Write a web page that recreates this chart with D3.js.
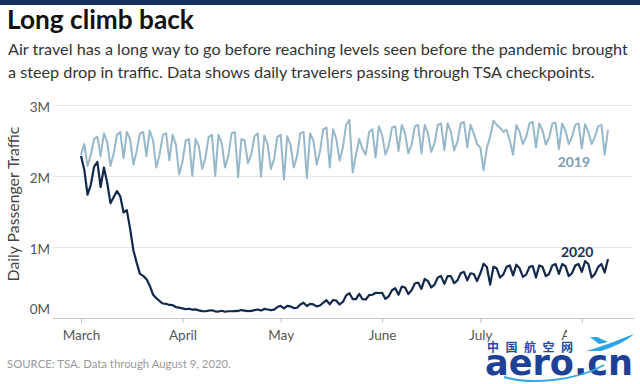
<!DOCTYPE html>
<html><head><meta charset="utf-8">
<script src="https://cdn.jsdelivr.net/npm/d3@7"></script>
<style>body{margin:0;background:#fff}svg{display:block}</style>
</head><body><svg id="c" width="640" height="384"></svg>
<script>
// ---------- DATA ----------
const startDate = "2020-03-01";           // first day of both series (2019 aligned by weekday)
const endDate = "2020-08-09";
// Daily TSA checkpoint travelers, millions
const values2020 = [
 2.281,2.090,1.736,1.877,2.130,2.199,1.845,2.120,1.909,1.617,1.703,1.788,1.714,1.486,1.519,1.258,0.954,0.780,0.621,0.593,0.548,0.455,0.331,0.279,0.239,0.204,0.200,0.184,0.180,0.154,0.146,
 0.136,0.124,0.130,0.118,0.122,0.108,0.097,0.095,0.104,0.109,0.094,0.091,0.102,0.088,0.095,0.095,0.097,0.099,0.112,0.105,0.097,0.099,0.111,0.120,0.105,0.128,0.120,0.110,0.119,0.154,
 0.172,0.134,0.170,0.163,0.140,0.144,0.190,0.215,0.169,0.200,0.191,0.164,0.176,0.215,0.250,0.193,0.253,0.244,0.190,0.227,0.318,0.349,0.267,0.267,0.340,0.264,0.261,0.321,0.327,0.353,0.352,
 0.354,0.268,0.305,0.391,0.419,0.328,0.441,0.430,0.338,0.390,0.486,0.500,0.410,0.550,0.520,0.430,0.470,0.570,0.590,0.480,0.590,0.590,0.490,0.530,0.630,0.650,0.530,0.630,0.620,0.520,
 0.630,0.764,0.718,0.470,0.720,0.700,0.570,0.610,0.720,0.740,0.600,0.750,0.700,0.580,0.610,0.720,0.730,0.570,0.740,0.720,0.590,0.620,0.740,0.760,0.620,0.760,0.730,0.590,0.630,0.740,0.760,
 0.650,0.800,0.760,0.570,0.620,0.720,0.760,0.640,0.832
];
const values2019 = [
 2.30,2.45,2.14,2.30,2.52,2.55,2.28,
 2.60,2.48,2.14,2.32,2.58,2.62,2.25,
 2.62,2.52,2.16,2.35,2.60,2.62,2.28,
 2.64,2.50,2.12,2.30,2.58,2.60,2.22,
 2.58,2.44,2.02,2.20,2.50,2.52,2.00,
 2.52,2.42,2.10,2.25,2.55,2.58,2.00,
 2.58,2.46,2.12,2.28,2.60,2.62,1.98,
 2.52,2.50,2.18,2.30,2.56,2.60,1.99,
 2.57,2.45,2.10,2.24,2.55,2.58,1.95,
 2.56,2.44,2.12,2.28,2.60,2.62,1.97,
 2.60,2.50,2.16,2.34,2.66,2.68,2.12,
 2.66,2.52,2.22,2.40,2.72,2.79,2.05,
 2.30,2.52,2.38,2.30,2.62,2.66,2.26,
 2.70,2.58,2.30,2.42,2.68,2.70,2.35,
 2.72,2.60,2.32,2.44,2.70,2.72,2.32,
 2.72,2.60,2.34,2.46,2.72,2.74,2.36,
 2.74,2.62,2.36,2.48,2.74,2.76,2.40,
 2.72,2.60,2.45,2.40,2.08,2.40,2.55,
 2.78,2.72,2.68,2.62,2.65,2.50,2.30,
 2.72,2.62,2.45,2.55,2.74,2.76,2.40,
 2.74,2.64,2.44,2.54,2.74,2.75,2.38,
 2.74,2.64,2.45,2.55,2.72,2.74,2.39,
 2.73,2.62,2.45,2.55,2.70,2.72,2.30,
 2.65
];
const yTicks = [0, 1, 2, 3];
const yTickLabels = ["0M", "1M", "2M", "3M"];
const monthTicks = ["2020-03-01","2020-04-01","2020-05-01","2020-06-01","2020-07-01","2020-08-01"];
const monthLabels = ["March","April","May","June","July","August"];
const seriesNames = ["2019", "2020"];
const seriesLabelDates = ["2020-07-24", "2020-07-25"];
const seriesLabelValues = [2.14, 0.88];

// ---------- CHART ----------
const svg = d3.select("#c");
const parse = d3.utcParse("%Y-%m-%d");
const t0 = parse(startDate), t1 = parse(endDate);
const FONT = "Lato, 'Open Sans', sans-serif";

const x = d3.scaleUtc().domain([t0, t1]).range([81, 608]);
const y = d3.scaleLinear().domain([0, 3]).range([318, 105]);

function fit(sel, w) {
  const cur = +sel.attr("font-size");
  const len = sel.node().getComputedTextLength();
  sel.attr("font-size", cur * w / len);
}

// top bar
svg.append("rect").attr("x",0).attr("y",0).attr("width",640).attr("height",5).attr("fill","#14305f");

// title / subtitle
const title = svg.append("text").attr("x",7).attr("y",29).attr("font-family",FONT)
  .attr("font-weight",700).attr("font-size",22).attr("fill","#111").text("Long climb back");
fit(title, 187);
const sub1 = svg.append("text").attr("x",8).attr("y",55).attr("font-family",FONT)
  .attr("font-size",15).attr("fill","#333")
  .text("Air travel has a long way to go before reaching levels seen before the pandemic brought");
fit(sub1, 620);
const sub2 = svg.append("text").attr("x",8).attr("y",78).attr("font-family",FONT)
  .attr("font-size",sub1.attr("font-size")).attr("fill","#333")
  .text("a steep drop in traffic. Data shows daily travelers passing through TSA checkpoints.");

// gridlines
svg.append("g").selectAll("line").data(yTicks.filter(d => d > 0)).join("line")
  .attr("x1",53).attr("x2",632).attr("y1",d=>y(d)+0.5).attr("y2",d=>y(d)+0.5)
  .attr("stroke","#e6e6e6").attr("stroke-width",1);

// y tick labels
svg.append("g").selectAll("text").data(yTicks).join("text")
  .attr("x",50).attr("y",d => d === 0 ? y(d) - 4 : y(d) + 6.5)
  .attr("text-anchor","end").attr("font-family",FONT).attr("font-size",13.5).attr("fill","#555")
  .text((d,i) => yTickLabels[i]);

// y axis title
const yt = svg.append("text").attr("transform","translate(19,204) rotate(-90)")
  .attr("text-anchor","middle").attr("font-family",FONT).attr("font-size",13.5).attr("fill","#444")
  .text("Daily Passenger Traffic");
fit(yt, 155);

// x axis
const xAxis = d3.axisBottom(x).tickValues(monthTicks.map(parse))
  .tickFormat((d,i) => monthLabels[i]).tickSize(4).tickPadding(8);
const gx = svg.append("g").attr("transform","translate(0,318.5)").call(xAxis);
gx.select(".domain").attr("d","M53,0H634").attr("stroke","#c4c4c4");
gx.selectAll(".tick line").attr("stroke","#bbb");
gx.selectAll(".tick text").attr("font-family",FONT).attr("font-size",13.5).attr("fill","#555");

// lines
const line = d3.line().x((d,i) => x(d3.utcDay.offset(t0, i))).y(d => y(d)).curve(d3.curveLinear);
svg.append("path").datum(values2019).attr("d", line).attr("fill","none")
  .attr("stroke","#97b8cb").attr("stroke-width",2).attr("stroke-linejoin","round");
svg.append("path").datum(values2020).attr("d", line).attr("fill","none")
  .attr("stroke","#13294b").attr("stroke-width",2.2).attr("stroke-linejoin","round");

// series labels
const labelColors = ["#7f9db3", "#1d3150"];
svg.append("g").selectAll("text").data(seriesNames).join("text")
  .attr("x",(d,i) => x(parse(seriesLabelDates[i])) + 2)
  .attr("y",(d,i) => y(seriesLabelValues[i]) + 1)
  .attr("font-family",FONT).attr("font-weight",700).attr("font-size",14)
  .attr("fill",(d,i) => labelColors[i]).text(d => d);

// source
const src = svg.append("text").attr("x",7).attr("y",368).attr("font-family",FONT)
  .attr("font-size",10.5).attr("fill","#9a9a9a").text("SOURCE: TSA. Data through August 9, 2020.");
fit(src, 224);

// watermark (aero.cn)
const wm = svg.append("g");
wm.append("rect").attr("x",567).attr("y",324).attr("width",73).attr("height",60).attr("fill","#fff");
wm.append("text").attr("x",487).attr("y",352).attr("font-family","'Noto Sans CJK SC'")
  .attr("font-weight",700).attr("font-size",12).attr("letter-spacing",6.5).attr("fill","#1c4ea6").text("中国航空网");
wm.append("path").attr("d","M586,351 C600,347 616,341 634,334 C627,341 613,347 601,351 Z M599,344 L590,337 L597,337 L608,342 Z")
  .attr("fill","#2aa3e8");
wm.append("text").attr("x",485).attr("y",375).attr("font-family","'DejaVu Sans'")
  .attr("font-weight",700).attr("font-size",36).attr("textLength",148).attr("lengthAdjust","spacingAndGlyphs")
  .attr("fill","#1d4196").text("aero.cn");
wm.append("path").attr("d","M504,377 C530,385 576,381 604,365").attr("fill","none")
  .attr("stroke","#3aa9e6").attr("stroke-width",2);
</script></body></html>
